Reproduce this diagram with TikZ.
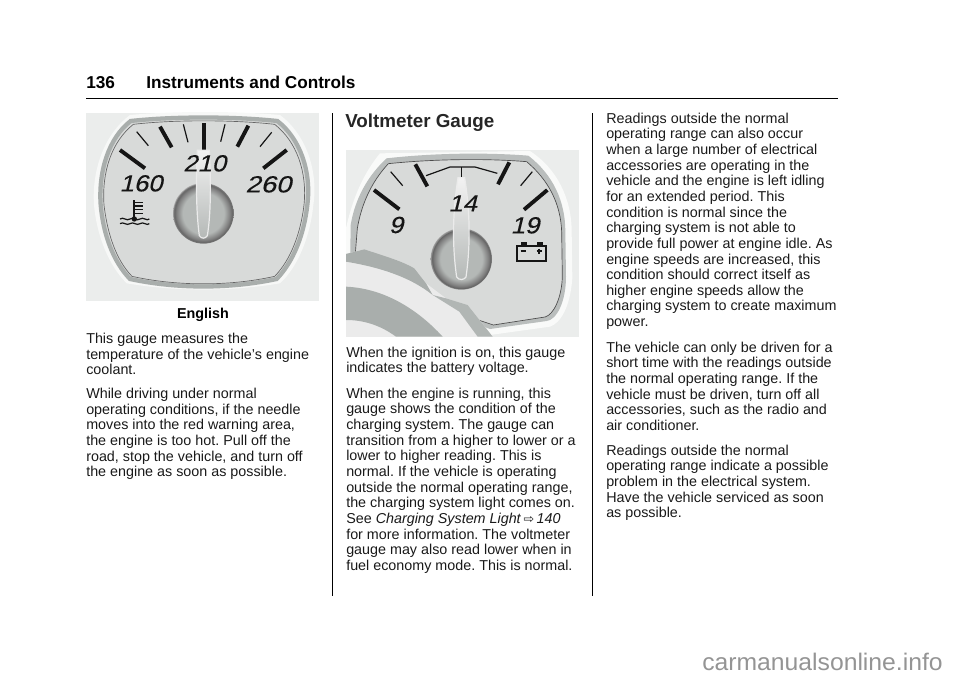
\documentclass[tikz,border=0pt]{standalone}
\usepackage{fontspec}
\setmainfont{Liberation Sans}
\newfontfamily\symfont{DejaVu Sans}
\newfontfamily\gaugefont[FakeBold=0.3,FakeSlant=0.22]{Liberation Sans}
\definecolor{facegray}{HTML}{D8DAD9}
\definecolor{bezelgray}{HTML}{A9AEAC}
\definecolor{halogray}{HTML}{EBEDEC}
\definecolor{hubgray}{HTML}{B4B8B6}
\definecolor{inkgray}{HTML}{151515}
\pgfdeclareradialshading{hubshade}{\pgfpoint{0bp}{0bp}}{color(0bp)=(hubgray); color(17bp)=(hubgray); color(22bp)=(black!50); color(24.2bp)=(black!62); color(25bp)=(black!35); color(50bp)=(black!35)}
\tikzset{
  bodytext/.style={anchor=north west, inner sep=0pt, align=left, font=\fontsize{10.75}{11.74}\selectfont\frenchspacing, text=black!90},
  gaugenum/.style={inner sep=0pt, xscale=1.1, font=\fontsize{17.5}{17.5}\gaugefont, text=inkgray},
  majortick/.style={line width=2.9pt, inkgray},
  minortick/.style={line width=0.9pt, inkgray},
  needleshape/.style={draw=white!92!black, line width=0.9pt, top color=white!95!black, bottom color=hubgray}
}
\begin{document}
\begin{tikzpicture}[x=0.75pt, y=-0.75pt]
\useasboundingbox (0,0) rectangle (960,678);

% page head
\node[anchor=base west, inner sep=0pt, font=\fontsize{12.9}{13}\selectfont\bfseries] (pagenum) at (86,88) {136};
\node[anchor=base west, inner sep=0pt, font=\fontsize{12.9}{13}\selectfont\bfseries] (pagehead) at (146,88) {Instruments and Controls};
\draw[line width=0.6pt] (86,98) -- (838,98);
\draw[line width=0.6pt] (332,113) -- (332,596);
\draw[line width=0.6pt] (592,113) -- (592,596);

% coolant gauge
\fill[halogray] (86,113) rectangle (319,301);
\begin{scope}[shift={(80,105)}, scale=1/3]
\fill[white!60!halogray] (150,30) .. controls (280,18) and (470,18) .. (600,30) .. controls (680,90) and (715,200) .. (700,300) .. controls (690,400) and (650,490) .. (600,535) .. controls (450,560) and (290,560) .. (140,535) .. controls (85,480) and (50,390) .. (42,300) .. controls (35,200) and (70,90) .. (150,30) -- cycle;
\draw[line width=3.2pt, bezelgray, fill=facegray] (152,48) .. controls (280,34) and (460,34) .. (592,48) .. controls (660,100) and (695,200) .. (682,300) .. controls (672,390) and (640,470) .. (590,522) .. controls (450,552) and (290,552) .. (150,522) .. controls (100,470) and (70,390) .. (62,300) .. controls (55,200) and (85,100) .. (152,48) -- cycle;
\draw[line width=0.5pt, black!60] (160,58) .. controls (280,44) and (460,44) .. (584,58) .. controls (650,110) and (682,200) .. (672,300) .. controls (662,385) and (632,465) .. (584,514) .. controls (450,544) and (290,544) .. (156,514) .. controls (108,465) and (82,385) .. (72,300) .. controls (65,200) and (95,110) .. (160,58) -- cycle;
\foreach \xa/\ya/\xb/\yb in {120/135/195/190, 240/65/275/127, 372/55/372/135, 505/62/472/125, 620/135/550/190}
\draw[majortick] (\xa,\ya) -- (\xb,\yb);
\foreach \xa/\ya/\xb/\yb in {170/80/205/122, 310/58/324/112, 435/58/422/110, 575/82/540/125}
\draw[minortick] (\xa,\ya) -- (\xb,\yb);
\shade[shading=hubshade] (370,325) circle (91);
\path[needleshape] (352,136) -- (388,136) .. controls (392,220) and (394,320) .. (382,392) .. controls (376,402) and (364,402) .. (358,392) .. controls (348,320) and (348,220) .. (352,136) -- cycle;
\node[gaugenum] (coolantlow) at (183,235) {160};
\node[gaugenum] (coolantmid) at (374,175) {210};
\node[gaugenum, xscale=1.07] (coolanthigh) at (565,238) {260};
% temperature symbol
\draw[line width=1.3pt, inkgray] (163,285) -- (163,342);
\foreach \y in {292,303,314,325}
\draw[line width=1.1pt, inkgray] (163,\y) -- (189,\y);
\fill[inkgray] (163,342) circle (8);
\foreach \y in {342,356}
\draw[line width=0.9pt, inkgray] (120,\y) .. controls (130,\y-8) and (140,\y+8) .. (150,\y) .. controls (160,\y-8) and (170,\y+8) .. (180,\y) .. controls (190,\y-8) and (200,\y+8) .. (208,\y);
\end{scope}

% voltmeter gauge
\fill[halogray] (346,150) rectangle (579,337);
\begin{scope}[shift={(340,145)}, scale=1/3]
\fill[white!70!halogray] (120,25) -- (570,18) .. controls (650,70) and (695,160) .. (695,260) -- (697,400) .. controls (690,490) and (660,535) .. (630,545) -- (450,570) -- (18,400) -- (18,250) .. controls (40,150) and (75,80) .. (120,25) -- cycle;
\fill[bezelgray!80!white] (140,40) .. controls (280,24) and (440,22) .. (565,32) .. controls (640,90) and (676,170) .. (676,260) -- (678,395) .. controls (678,470) and (650,525) .. (620,528) -- (450,552) -- (30,400) -- (32,240) .. controls (45,160) and (85,90) .. (140,40) -- cycle;
\draw[line width=0.5pt, black!70, fill=facegray] (145,56) .. controls (280,42) and (440,40) .. (560,50) .. controls (625,105) and (662,175) .. (665,260) -- (667,395) .. controls (665,460) and (640,510) .. (615,516) -- (460,540) -- (40,400) -- (52,250) .. controls (65,175) and (95,110) .. (145,56) -- cycle;
\foreach \xa/\ya/\xb/\yb in {102/135/178/193, 226/58/262/124, 508/52/474/118, 622/135/552/194}
\draw[majortick] (\xa,\ya) -- (\xb,\yb);
\foreach \xa/\ya/\xb/\yb in {152/80/188/122, 577/80/542/122}
\draw[minortick] (\xa,\ya) -- (\xb,\yb);
\draw[minortick] (258,92) -- (330,66) -- (405,66) -- (472,85);
\draw[minortick] (364,66) -- (364,98);
\shade[shading=hubshade] (364,342) circle (92);
\path[needleshape] (354,98) -- (374,98) .. controls (390,200) and (392,300) .. (378,396) .. controls (372,406) and (356,406) .. (350,396) .. controls (336,300) and (338,200) .. (354,98) -- cycle;
\node[gaugenum] (voltlow) at (168,240) {9};
\node[gaugenum] (voltmid) at (368,175) {14};
\node[gaugenum] (volthigh) at (555,241) {19};
% battery symbol
\draw[line width=1.4pt, inkgray] (532,302) rectangle (619,347);
\fill[inkgray] (543,292) rectangle (561,302);
\fill[inkgray] (590,292) rectangle (608,302);
\draw[line width=1.4pt, inkgray] (542,319) -- (558,319);
\draw[line width=1.4pt, inkgray] (590,319) -- (606,319);
\draw[line width=1.4pt, inkgray] (598,311) -- (598,327);
% trim in front of the gauge
\fill[white!92!black] (18,327) -- (73,313) .. controls (140,335) and (190,350) .. (223,370) -- (258,415) -- (318,460) -- (383,480) -- (458,575) -- (18,575) -- cycle;
\fill[bezelgray] (18,327) -- (73,313) .. controls (140,335) and (190,350) .. (223,370) -- (258,415) -- (278,450) .. controls (240,420) and (170,375) .. (18,350) -- cycle;
\fill[bezelgray!90!white] (278,450) -- (318,460) -- (383,480) -- (458,575) -- (413,575) -- (358,500) -- cycle;
\fill[bezelgray] (18,425) .. controls (130,430) and (230,490) .. (308,575) -- (168,575) .. controls (120,540) and (70,525) .. (18,525) -- cycle;
\end{scope}

% headings and captions
\node[inner sep=0pt, font=\fontsize{10.75}{11.6}\selectfont\bfseries] (caption) at (203,315) {English};
\node[anchor=base west, inner sep=0pt, font=\fontsize{14.1}{15}\selectfont\bfseries, text=black!85] (volthead) at (345,127) {Voltmeter Gauge};

% first column
\node[bodytext] (coolantone) at (86,333) {This gauge measures the\\temperature of the vehicle's engine\\coolant.};
\node[bodytext] (coolanttwo) at (86,388) {While driving under normal\\operating conditions, if the needle\\moves into the red warning area,\\the engine is too hot. Pull off the\\road, stop the vehicle, and turn off\\the engine as soon as possible.};

% second column
\node[bodytext] (voltone) at (346,346.5) {When the ignition is on, this gauge\\indicates the battery voltage.};
\node[bodytext] (volttwo) at (346,387.5) {When the engine is running, this\\gauge shows the condition of the\\charging system. The gauge can\\transition from a higher to lower or a\\lower to higher reading. This is\\normal. If the vehicle is operating\\outside the normal operating range,\\the charging system light comes on.\\See \textit{Charging System Light}\,{\symfont\fontsize{9.5}{9.5}\selectfont ⇨}\,\textit{140}\\for more information. The voltmeter\\gauge may also read lower when in\\fuel economy mode. This is normal.};

% third column
\node[bodytext] (restone) at (606,112.5) {Readings outside the normal\\operating range can also occur\\when a large number of electrical\\accessories are operating in the\\vehicle and the engine is left idling\\for an extended period. This\\condition is normal since the\\charging system is not able to\\provide full power at engine idle. As\\engine speeds are increased, this\\condition should correct itself as\\higher engine speeds allow the\\charging system to create maximum\\power.};
\node[bodytext] (resttwo) at (606,341.5) {The vehicle can only be driven for a\\short time with the readings outside\\the normal operating range. If the\\vehicle must be driven, turn off all\\accessories, such as the radio and\\air conditioner.};
\node[bodytext] (restthree) at (606,444.5) {Readings outside the normal\\operating range indicate a possible\\problem in the electrical system.\\Have the vehicle serviced as soon\\as possible.};

% watermark
\node[anchor=base east, inner sep=0pt, xscale=1.03, font=\fontsize{18}{18}\selectfont, text=black!42] (watermark) at (943,670) {carmanualsonline.info};
\end{tikzpicture}
\end{document}
